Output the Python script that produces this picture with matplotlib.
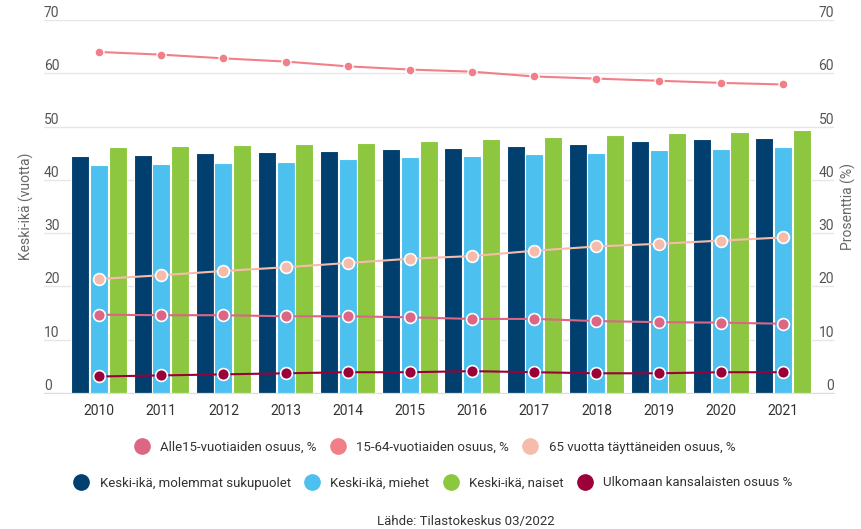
import matplotlib.pyplot as plt
from matplotlib.lines import Line2D
import numpy as np

plt.rcParams['font.family'] = ['Roboto', 'DejaVu Sans']

vuodet = ['2010', '2011', '2012', '2013', '2014', '2015',
          '2016', '2017', '2018', '2019', '2020', '2021']

# keski-ikä (vasen akseli)
ika_kaikki = [44.5, 44.7, 45.0, 45.2, 45.5, 45.7, 45.9, 46.4, 46.8, 47.2, 47.6, 47.8]
ika_miehet = [42.8, 43.0, 43.2, 43.4, 44.0, 44.2, 44.5, 44.9, 45.1, 45.6, 45.8, 46.1]
ika_naiset = [46.1, 46.3, 46.5, 46.8, 47.0, 47.3, 47.6, 48.0, 48.4, 48.8, 48.9, 49.3]

# osuudet, % (oikea akseli)
alle15 = [14.7, 14.6, 14.6, 14.4, 14.4, 14.2, 13.9, 13.9, 13.5, 13.3, 13.2, 13.0]
v15_64 = [64.0, 63.5, 62.8, 62.2, 61.3, 60.7, 60.3, 59.4, 59.0, 58.6, 58.2, 57.9]
yli65 = [21.4, 22.1, 22.9, 23.6, 24.4, 25.2, 25.7, 26.7, 27.5, 28.0, 28.6, 29.2]
ulkomaan = [3.1, 3.3, 3.5, 3.7, 3.9, 3.9, 4.1, 3.9, 3.7, 3.7, 3.9, 3.9]

c_kaikki = '#003f6e'
c_miehet = '#4cc0ef'
c_naiset = '#8dc63f'
c_ulk = '#9b0039'
c_alle15 = '#dd6586'
c_1564 = '#f27f88'
c_65 = '#f6bcab'
teksti = '#333333'

fig = plt.figure(figsize=(8.61, 5.29), dpi=100)
ax = fig.add_axes([44 / 861, 1 - 393 / 529, (834 - 44) / 861, (393 - 20) / 529])
x = np.arange(len(vuodet))
w = 0.29

ax.bar(x - 0.3, ika_kaikki, w, color=c_kaikki, edgecolor='white', linewidth=0.8)
ax.bar(x, ika_miehet, w, color=c_miehet, edgecolor='white', linewidth=0.8)
ax.bar(x + 0.3, ika_naiset, w, color=c_naiset, edgecolor='white', linewidth=0.8)

ax.set_xlim(-0.885, 11.82)
ax.set_ylim(0, 70)
ax.set_yticks(range(0, 80, 10))
ax.set_xticks(x)
ax.set_xticklabels(vuodet)
ax.yaxis.grid(True, color='#e6e6e6', linewidth=1)
ax.set_axisbelow(True)
for s in ['top', 'left', 'right']:
    ax.spines[s].set_visible(False)
ax.spines['bottom'].set_color('#dddddd')
ax.tick_params(axis='x', length=0, pad=8, labelsize=10, labelcolor=teksti)
ax.tick_params(axis='y', length=0, pad=0, labelsize=10, labelcolor='#555555')
plt.setp(ax.get_yticklabels(), ha='left', va='bottom')
ax.set_ylabel('Keski-ikä (vuotta)', fontsize=10, color='#666666', labelpad=7)

ax2 = ax.twinx()
ax2.set_ylim(0, 70)
ax2.set_yticks(range(0, 80, 10))
for s in ['top', 'left', 'right', 'bottom']:
    ax2.spines[s].set_visible(False)
ax2.tick_params(axis='y', length=0, pad=0, labelsize=10, labelcolor='#555555')
plt.setp(ax2.get_yticklabels(), ha='right', va='bottom')
ax2.set_ylabel('Prosenttia (%)', fontsize=10, color='#666666', labelpad=5)

ax2.plot(x, v15_64, color=c_1564, lw=1.5, marker='o', ms=6.5, mec='white', mew=1)
ax2.plot(x, yli65, color=c_65, lw=1.5, marker='o', ms=8.5, mec='white', mew=1.2)
ax2.plot(x, alle15, color=c_alle15, lw=1.5, marker='o', ms=8.5, mec='white', mew=1.2)
ax2.plot(x, ulkomaan, color=c_ulk, lw=1.5, marker='o', ms=8.5, mec='white', mew=1.2)


def pallo(c):
    return Line2D([], [], ls='none', marker='o', ms=11, color=c, mec=c)


rivi1 = [pallo(c_alle15), pallo(c_1564), pallo(c_65)]
nimet1 = ['Alle15-vuotiaiden osuus, %', '15-64-vuotiaiden osuus, %',
          '65 vuotta täyttäneiden osuus, %']
rivi2 = [pallo(c_kaikki), pallo(c_miehet), pallo(c_naiset), pallo(c_ulk)]
nimet2 = ['Keski-ikä, molemmat sukupuolet', 'Keski-ikä, miehet',
          'Keski-ikä, naiset', 'Ulkomaan kansalaisten osuus %']

leg_kw = dict(loc='center', frameon=False, fontsize=9.5, labelcolor=teksti,
              handlelength=1.2, handletextpad=0.8, columnspacing=1.0)
fig.legend(rivi1, nimet1, bbox_to_anchor=(0.505, 1 - 447 / 529), ncol=3, **leg_kw)
fig.legend(rivi2, nimet2, bbox_to_anchor=(0.503, 1 - 483 / 529), ncol=4, **leg_kw)

fig.text(0.541, 1 - 521 / 529, 'Lähde: Tilastokeskus 03/2022', ha='center', va='center',
         fontsize=9.5, color=teksti)

fig.savefig('out.png', dpi=100)
